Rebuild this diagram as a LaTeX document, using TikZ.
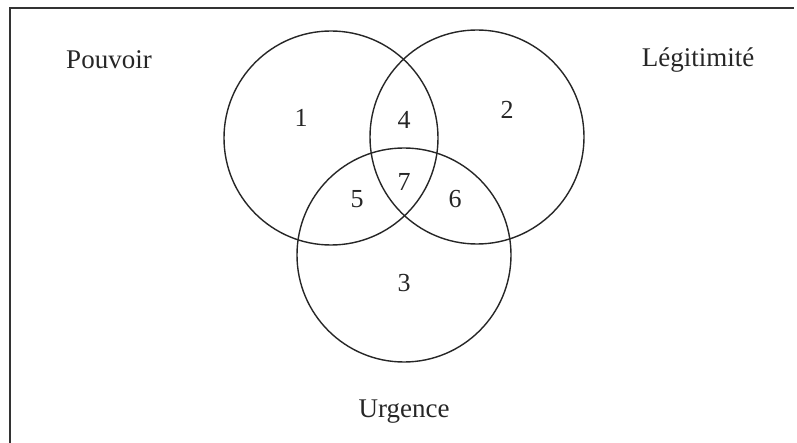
\documentclass[tikz,border=0pt]{standalone}
\usepackage{fontspec}
\setmainfont{Liberation Serif}
\begin{document}
\begin{tikzpicture}[x=1pt,y=-1pt,
  setc/.style={circle, draw=black!85, line width=1.4pt, minimum size=214pt, inner sep=0pt},
  lab/.style={font=\fontsize{27}{30}\selectfont, inner sep=0pt, text=black!85},
  num/.style={font=\fontsize{26}{29}\selectfont, inner sep=0pt, text=black!85}]
\useasboundingbox (0,0) rectangle (797,443);
% frame (left and top only)
\coordinate (fbl) at (10,443);
\coordinate (ftl) at (10,8);
\coordinate (ftr) at (794,8);
\draw[line width=2pt, black!80] (fbl) -- (ftl) -- (ftr);
% circles
\node[setc] (P) at (331,138) {};
\node[setc] (L) at (477,137) {};
\node[setc] (U) at (404,255) {};
% labels
\node[lab] (tP) at (109,60) {Pouvoir};
\node[lab] (tL) at (698,60) {Légitimité};
\node[lab] (tU) at (404,412) {Urgence};
% region numbers
\node[num] (n1) at (301,118) {1};
\node[num] (n2) at (507,110) {2};
\node[num] (n3) at (404,283) {3};
\node[num] (n4) at (404,120) {4};
\node[num] (n5) at (357,199) {5};
\node[num] (n6) at (455,199) {6};
\node[num] (n7) at (404,182) {7};
\end{tikzpicture}
\end{document}
